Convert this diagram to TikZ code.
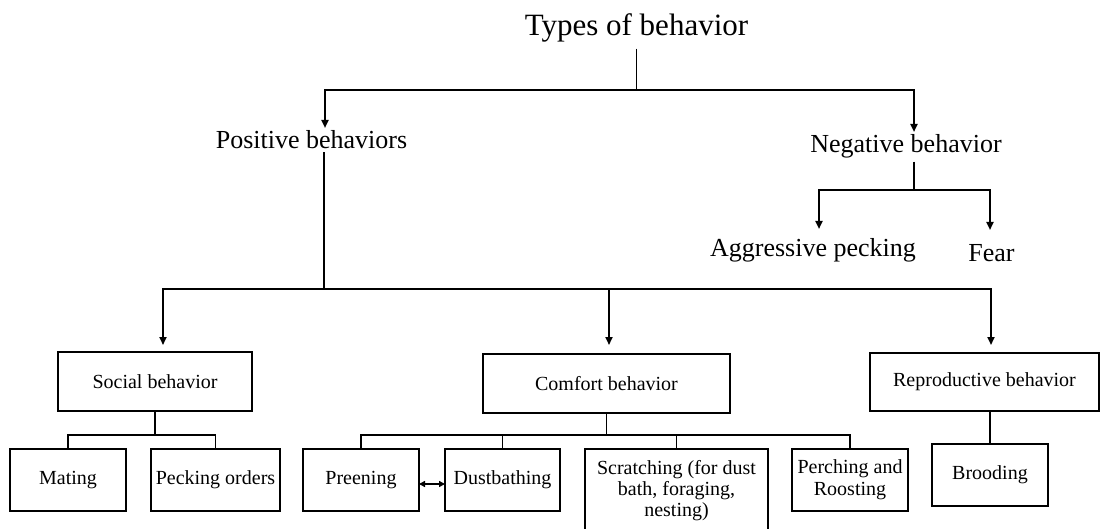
\documentclass[tikz,border=0pt]{standalone}
\usepackage{fontspec}
\setmainfont{Liberation Serif}
\usetikzlibrary{arrows.meta,positioning,calc}

\tikzset{
  line/.style={line width=1.8pt},
  arr/.style={line width=1.8pt,-{Triangle[length=8pt,width=7pt]}},
  lab/.style={inner sep=3pt,outer sep=0pt,anchor=base,font=\fontsize{26}{31}\selectfont},
  box/.style={draw,line width=1.9pt,align=center,inner sep=2pt,outer sep=0pt,
    minimum width=116pt,minimum height=62pt,font=\fontsize{20}{21}\selectfont}
}

\begin{document}
\begin{tikzpicture}[x=1pt,y=-1pt]
\useasboundingbox (0,0) rectangle (1100,529);
\node[lab,outer sep=3pt,font=\fontsize{31}{37}\selectfont] (types) at (636.5,36) {Types of behavior};
\node[lab] (pos) at (311.5,149) {Positive behaviors};
\node[lab] (neg) at (906,153) {Negative behavior};
\node[lab] (aggr) at (813,257) {Aggressive pecking};
\node[lab] (fear) at (991.5,262) {Fear};
\node[box,minimum width=194pt,minimum height=59pt] (social) at (155,381.5) {Social behavior};
\node[box,minimum width=247pt,minimum height=59pt] (comfort) at (606.5,383.5) {Comfort behavior};
\node[box,minimum width=229pt,minimum height=58pt] (repro) at (984.5,382) {Reproductive behavior};
\node[box] (mating) at (68,480) {Mating};
\node[box,minimum width=129pt] (pecking) at (215.5,480) {Pecking orders};
\node[box] (preen) at (361,480) {Preening};
\node[box,minimum width=115pt] (dust) at (502.5,480) {Dustbathing};
\node[box,minimum width=183pt,minimum height=84pt] (scratch) at (676.5,491) {Scratching (for dust\\bath, foraging,\\nesting)};
\node[box,font=\fontsize{20}{22}\selectfont] (perch) at (850,480) {Perching and\\Roosting};
\node[box] (brood) at (990,475) {Brooding};
\coordinate (tj) at (636.5,90);
\coordinate (nj) at (914,190);
\coordinate (pj) at (324,289);
\coordinate (sj) at (155,435);
\coordinate (cj) at (606.5,435);
\draw[line] (types) -- (tj);
\draw[arr] (tj) -| ([xshift=13.5pt]pos.north);
\draw[arr] (tj) -| ([xshift=8pt]neg.north);
\draw[line] ([xshift=8pt]neg.south) -- (nj);
\draw[arr,shorten >=7pt] (nj) -| ([xshift=6pt]aggr.north);
\draw[arr,shorten >=12pt] (nj) -| ([xshift=-1.5pt]fear.north);
\draw[line] ([xshift=12.5pt]pos.south) -- (pj);
\draw[arr,shorten >=7pt] (pj) -| ([xshift=8pt]social.north);
\draw[arr,shorten >=9pt] (pj) -| ([xshift=2.5pt]comfort.north);
\draw[arr,shorten >=8pt] (pj) -| ([xshift=6.5pt]repro.north);
\draw[line] (social) -- (sj);
\draw[line] (sj) -| (mating);
\draw[line] (sj) -| (pecking);
\draw[line] (comfort) -- (cj);
\draw[line] (cj) -| (preen);
\draw[line] (cj) -| (dust);
\draw[line] (cj) -| (scratch);
\draw[line] (cj) -| (perch);
\draw[line] (brood.north |- repro.south) -- (brood);
\draw[line,{Triangle[length=6pt,width=6pt]}-{Triangle[length=6pt,width=6pt]}] ([yshift=-4pt]preen.east) -- ([yshift=-4pt]dust.west);
\end{tikzpicture}
\end{document}
